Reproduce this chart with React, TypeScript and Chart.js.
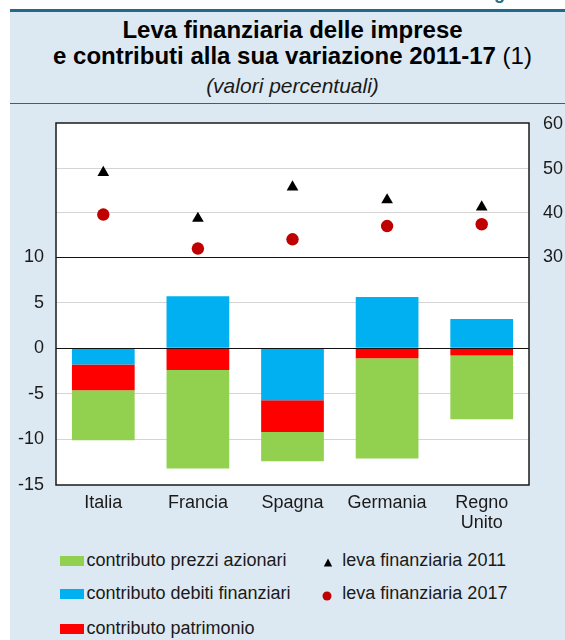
import React, { useEffect, useRef } from "react";
import { Chart, registerables } from "chart.js";

Chart.register(...registerables);

// Countries on the x axis
const categories: (string | string[])[] = ["Italia", "Francia", "Spagna", "Germania", ["Regno", "Unito"]];

// Contributions to the change in leverage 2011-17 (percentage points, left axis)
const debitiFinanziari = [-1.8, 5.7, -5.7, 5.6, 3.2];
const patrimonio = [-2.8, -2.4, -3.5, -1.1, -0.8];
const prezziAzionari = [-5.5, -10.8, -3.2, -11.0, -7.0];

// Leverage levels (percent, right axis)
const leva2011 = [49.1, 38.7, 45.8, 42.9, 41.3];
const leva2017 = [39.6, 31.9, 34.0, 37.0, 37.4];

// Tick labels
const leftTicks = [-15, -10, -5, 0, 5, 10];
const rightTicks = [30, 40, 50, 60];

const FONT = "'Liberation Sans', Arial, Helvetica, sans-serif";
const TEXT = "#1a1a1a";
const PANEL = "#DDE9F2";
const RULE = "#1F6B8C";

const plotFrame = {
  id: "plotFrame",
  beforeDraw(chart: any) {
    const { ctx, chartArea: a } = chart;
    ctx.save();
    ctx.fillStyle = "#ffffff";
    ctx.fillRect(a.left, a.top, a.right - a.left, a.bottom - a.top);
    ctx.restore();
  },
  afterDatasetsDraw(chart: any) {
    const { ctx, chartArea: a, scales } = chart;
    ctx.save();
    ctx.strokeStyle = "#111";
    ctx.lineWidth = 1.2;
    for (const v of [0, 10]) {
      const y = Math.round(scales.y.getPixelForValue(v)) + 0.5;
      ctx.beginPath();
      ctx.moveTo(a.left, y);
      ctx.lineTo(a.right, y);
      ctx.stroke();
    }
    ctx.lineWidth = 1.5;
    ctx.strokeStyle = "#1a1a1a";
    ctx.strokeRect(a.left, a.top, a.right - a.left, a.bottom - a.top);
    ctx.restore();
  },
};

// Fixed axis sizes, with no extra room reserved for overhanging labels
const fixSize = (size: number, vertical: boolean) => (s: any) => {
  if (vertical) s.width = size;
  else s.height = size;
  s.paddingTop = 0;
  s.paddingBottom = 0;
  s.paddingLeft = 0;
  s.paddingRight = 0;
};

function LevaChart() {
  const ref = useRef<HTMLCanvasElement | null>(null);

  useEffect(() => {
    if (!ref.current) return;
    const tickFont = { family: FONT, size: 18 };
    const barStyle = { yAxisID: "y", stack: "c", barPercentage: 0.663, categoryPercentage: 1, order: 2 };
    const chart = new Chart(ref.current, {
      type: "bar",
      data: {
        labels: categories as any,
        datasets: [
          { type: "bar", label: "contributo debiti finanziari", data: debitiFinanziari, backgroundColor: "#00B0F0", ...barStyle },
          { type: "bar", label: "contributo patrimonio", data: patrimonio, backgroundColor: "#FF0000", ...barStyle },
          { type: "bar", label: "contributo prezzi azionari", data: prezziAzionari, backgroundColor: "#92D050", ...barStyle },
          {
            type: "line",
            label: "leva finanziaria 2011",
            data: leva2011,
            yAxisID: "y2",
            showLine: false,
            pointStyle: "triangle",
            pointRadius: 6.75,
            pointBackgroundColor: "#000",
            pointBorderColor: "#000",
            pointBorderWidth: 0,
            order: 0,
          },
          {
            type: "line",
            label: "leva finanziaria 2017",
            data: leva2017,
            yAxisID: "y2",
            showLine: false,
            pointStyle: "circle",
            pointRadius: 6.2,
            pointBackgroundColor: "#C00000",
            pointBorderColor: "#C00000",
            pointBorderWidth: 0,
            order: 0,
          },
        ] as any,
      },
      options: {
        responsive: false,
        animation: false,
        devicePixelRatio: 1,
        layout: { padding: { top: 18, left: 0, right: 0, bottom: 0 } },
        plugins: { legend: { display: false }, tooltip: { enabled: false } },
        scales: {
          x: {
            stacked: true,
            grid: { display: false, drawTicks: false },
            border: { display: false },
            ticks: {
              font: { ...tickFont, lineHeight: 1.12 },
              color: TEXT,
              padding: 8,
              autoSkip: false,
              maxRotation: 0,
            },
            afterFit: fixSize(55, false),
          },
          y: {
            position: "left",
            stacked: true,
            min: -15,
            max: 24.69,
            afterBuildTicks: (s: any) => {
              s.ticks = leftTicks.map((v) => ({ value: v }));
            },
            grid: {
              drawTicks: false,
              lineWidth: 1,
              color: (c: any) =>
                [-10, -5, 5].includes(c.tick?.value) ? "#d4d4d4" : "rgba(0,0,0,0)",
            },
            border: { display: false },
            ticks: { font: tickFont, color: TEXT, padding: 12 },
            afterFit: fixSize(46, true),
          },
          y2: {
            position: "right",
            min: -21.58,
            max: 60.3,
            afterBuildTicks: (s: any) => {
              s.ticks = rightTicks.map((v) => ({ value: v }));
            },
            grid: {
              drawTicks: false,
              lineWidth: 1,
              color: (c: any) =>
                [40, 50].includes(c.tick?.value) ? "#d4d4d4" : "rgba(0,0,0,0)",
            },
            border: { display: false },
            ticks: { font: tickFont, color: TEXT, padding: 14 },
            afterFit: fixSize(36, true),
          },
        },
      },
      plugins: [plotFrame],
    });
    return () => chart.destroy();
  }, []);

  return (
    <canvas
      ref={ref}
      width={555}
      height={435}
      style={{ position: "absolute", left: 10, top: 105, width: 555, height: 435 }}
    />
  );
}

const legendText: React.CSSProperties = {
  position: "absolute",
  fontFamily: FONT,
  fontSize: 18,
  lineHeight: "18px",
  color: TEXT,
  whiteSpace: "nowrap",
};

function Swatch({ color, top }: { color: string; top: number }) {
  return (
    <div style={{ position: "absolute", left: 60, top, width: 24, height: 10, background: color }} />
  );
}

export default function App() {
  return (
    <div
      style={{
        position: "absolute",
        left: 0,
        top: 0,
        width: 565,
        height: 640,
        overflow: "hidden",
        background: "#ffffff",
      }}
    >
      <div
        style={{
          position: "absolute",
          left: 478,
          top: -16,
          fontFamily: FONT,
          fontWeight: 700,
          fontSize: 18,
          lineHeight: "18px",
          color: RULE,
          whiteSpace: "nowrap",
        }}
      >
        Figura 11.4
      </div>
      <div style={{ position: "absolute", left: 10, top: 11, width: 565, height: 629, background: PANEL }} />
      <div style={{ position: "absolute", left: 10, top: 9, width: 565, height: 2.5, background: RULE }} />
      <div style={{ position: "absolute", left: 10, top: 102.5, width: 565, height: 1.5, background: RULE }} />

      <div
        style={{
          position: "absolute",
          left: 10,
          top: 18,
          width: 565,
          textAlign: "center",
          fontFamily: FONT,
          fontWeight: 700,
          fontSize: 24,
          lineHeight: "24px",
          color: "#000",
          whiteSpace: "nowrap",
        }}
      >
        Leva finanziaria delle imprese
      </div>
      <div
        style={{
          position: "absolute",
          left: 10,
          top: 44,
          width: 565,
          textAlign: "center",
          fontFamily: FONT,
          fontSize: 24,
          lineHeight: "24px",
          color: "#000",
          whiteSpace: "nowrap",
        }}
      >
        <span style={{ fontWeight: 700 }}>e contributi alla sua variazione 2011-17</span> (1)
      </div>
      <div
        style={{
          position: "absolute",
          left: 10,
          top: 75,
          width: 565,
          textAlign: "center",
          fontFamily: FONT,
          fontStyle: "italic",
          fontSize: 21,
          lineHeight: "21px",
          color: TEXT,
          whiteSpace: "nowrap",
        }}
      >
        (valori percentuali)
      </div>

      <LevaChart />

      <Swatch color="#92D050" top={556} />
      <div style={{ ...legendText, left: 86.5, top: 550.5 }}>contributo prezzi azionari</div>
      <Swatch color="#00B0F0" top={589} />
      <div style={{ ...legendText, left: 86.5, top: 583.5 }}>contributo debiti finanziari</div>
      <Swatch color="#FF0000" top={624} />
      <div style={{ ...legendText, left: 86.5, top: 618.5 }}>contributo patrimonio</div>

      <svg style={{ position: "absolute", left: 322, top: 557 }} width={12} height={11}>
        <polygon points="6,1.5 10.2,9.5 1.8,9.5" fill="#000" />
      </svg>
      <div style={{ ...legendText, left: 342.3, top: 550.5 }}>leva finanziaria 2011</div>
      <svg style={{ position: "absolute", left: 321, top: 590 }} width={12} height={12}>
        <circle cx={6} cy={6} r={4.5} fill="#C00000" />
      </svg>
      <div style={{ ...legendText, left: 342.3, top: 583.5 }}>leva finanziaria 2017</div>
    </div>
  );
}
